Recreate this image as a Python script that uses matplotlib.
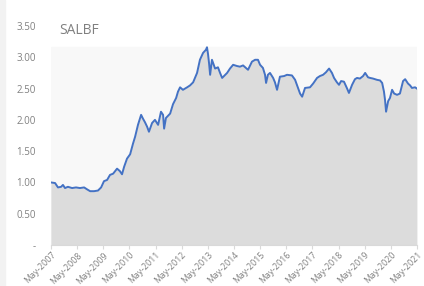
import matplotlib
matplotlib.use("Agg")
import matplotlib.pyplot as plt
from matplotlib.patches import Rectangle

# ==========================
# Datos
# ==========================
ticker = "SALBF"

# fecha en año decimal
years = [2007.33, 2007.49, 2007.60, 2007.72, 2007.79, 2007.87, 2007.98, 2008.14,
         2008.29, 2008.44, 2008.60, 2008.71, 2008.83, 2008.98, 2009.13, 2009.25,
         2009.36, 2009.48, 2009.59, 2009.71, 2009.86, 2009.97, 2010.05, 2010.13,
         2010.24, 2010.36, 2010.47, 2010.55, 2010.66, 2010.78, 2010.85, 2010.93,
         2011.01, 2011.08, 2011.20, 2011.31, 2011.43, 2011.54, 2011.62, 2011.66,
         2011.73, 2011.89, 2012.00, 2012.12, 2012.19, 2012.27, 2012.38, 2012.54,
         2012.65, 2012.77, 2012.92, 2013.03, 2013.15, 2013.26, 2013.30, 2013.34,
         2013.38, 2013.42, 2013.49, 2013.61, 2013.72, 2013.80, 2013.88, 2013.95,
         2014.07, 2014.18, 2014.30, 2014.45, 2014.56, 2014.68, 2014.79, 2014.87,
         2014.95, 2015.02, 2015.14, 2015.25, 2015.33, 2015.44, 2015.52, 2015.56,
         2015.63, 2015.71, 2015.83, 2015.90, 2015.98, 2016.09, 2016.25, 2016.36,
         2016.55, 2016.67, 2016.78, 2016.86, 2016.94, 2017.05, 2017.24, 2017.36,
         2017.51, 2017.62, 2017.74, 2017.85, 2017.97, 2018.08, 2018.16, 2018.27,
         2018.35, 2018.43, 2018.54, 2018.66, 2018.73, 2018.85, 2018.96, 2019.04,
         2019.15, 2019.27, 2019.35, 2019.46, 2019.54, 2019.65, 2019.80, 2019.92,
         2020.00, 2020.07, 2020.11, 2020.15, 2020.23, 2020.30, 2020.38, 2020.46,
         2020.57, 2020.68, 2020.80, 2020.88, 2020.99, 2021.07, 2021.14, 2021.26,
         2021.33]

prices = [1.00, 0.99, 0.92, 0.93, 0.96, 0.91, 0.93, 0.91,
          0.92, 0.91, 0.92, 0.89, 0.86, 0.86, 0.87, 0.92,
          1.02, 1.04, 1.12, 1.14, 1.22, 1.18, 1.13, 1.25,
          1.38, 1.45, 1.62, 1.73, 1.92, 2.08, 2.02, 1.96,
          1.89, 1.81, 1.95, 2.00, 1.92, 2.13, 2.08, 1.86,
          2.03, 2.10, 2.25, 2.35, 2.45, 2.52, 2.48, 2.52,
          2.55, 2.60, 2.75, 2.96, 3.07, 3.12, 3.16, 3.05,
          2.90, 2.72, 2.96, 2.82, 2.84, 2.75, 2.67, 2.70,
          2.75, 2.82, 2.88, 2.86, 2.85, 2.87, 2.83, 2.80,
          2.87, 2.93, 2.96, 2.96, 2.88, 2.83, 2.72, 2.59,
          2.72, 2.75, 2.67, 2.60, 2.48, 2.69, 2.70, 2.72,
          2.71, 2.64, 2.51, 2.42, 2.37, 2.51, 2.52, 2.58,
          2.67, 2.70, 2.72, 2.76, 2.82, 2.75, 2.67, 2.60,
          2.56, 2.62, 2.61, 2.50, 2.43, 2.56, 2.65, 2.67,
          2.66, 2.70, 2.75, 2.68, 2.67, 2.66, 2.64, 2.63,
          2.59, 2.45, 2.32, 2.13, 2.30, 2.35, 2.48, 2.42,
          2.40, 2.42, 2.62, 2.65, 2.58, 2.55, 2.51, 2.52,
          2.50]

tick_years = list(range(2007, 2022))
tick_labels = [f"May-{y}" for y in tick_years]
y_ticks = [0, 0.5, 1.0, 1.5, 2.0, 2.5, 3.0, 3.5]
y_labels = ["-"] + [f"{v:.2f}" for v in y_ticks[1:]]

# ==========================
# Estilo
# ==========================
plt.rcParams['font.family'] = ['Open Sans', 'DejaVu Sans']
gris_texto = '#808080'
azul = '#4472C4'

fig = plt.figure(figsize=(4.24, 2.86), dpi=100)
fig.patches.append(Rectangle((0, 0), 5 / 424, 1, transform=fig.transFigure,
                             color='#f2f2f2', zorder=0))
ax = fig.add_axes([0.1203, 0.1434, 0.8632, 0.7657])

x_ticks = [y + 4 / 12 for y in tick_years]

# fondo muy claro hasta el máximo y relleno gris bajo la línea
ax.axhspan(0, max(prices), color='#f8f8f8', zorder=0)
ax.fill_between(years, prices, 0, color='#dcdcdc', linewidth=0, zorder=1)
ax.plot(years, prices, color=azul, linewidth=1.4, zorder=2)

ax.set_xlim(x_ticks[0], x_ticks[-1])
ax.set_ylim(0, 3.5)

# etiquetas del eje Y (alineadas a la derecha, lejos del eje)
ax.set_yticks(y_ticks)
ax.set_yticklabels(y_labels, color=gris_texto, fontsize=7)
ax.tick_params(axis='y', length=0, pad=11)

ax.set_xticks(x_ticks)
ax.set_xticklabels(tick_labels, rotation=45, ha='right', rotation_mode='anchor',
                   color=gris_texto, fontsize=6.3)
ax.tick_params(axis='x', length=3, color='#d9d9d9', pad=1)

for s in ['left', 'right', 'top']:
    ax.spines[s].set_visible(False)
ax.spines['bottom'].set_color('#d9d9d9')
ax.set_facecolor('white')

fig.text(59 / 424, 1 - 31 / 286, ticker, color=gris_texto, fontsize=10,
         va='center', ha='left')

fig.savefig('out.png', dpi=100)
